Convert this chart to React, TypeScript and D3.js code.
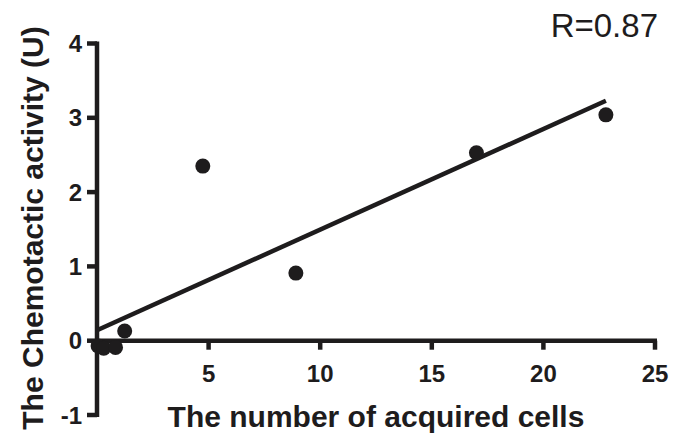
import React from "react";
import * as d3 from "d3";

// ── Data ──────────────────────────────────────────────────────────────────────

const cellCounts = [0.05, 0.3, 0.83, 1.24, 4.74, 8.91, 17.0, 22.8];
const activity = [-0.07, -0.1, -0.09, 0.13, 2.35, 0.91, 2.53, 3.04];

const xTicks = [5, 10, 15, 20, 25];
const yTicks = [-1, 0, 1, 2, 3, 4];

// fitted line as drawn in the figure
const fitIntercept = 0.14;
const fitSlope = 0.1355;
const fitRange = [0, 22.8];

const rLabel = "R=0.87";
const xTitle = "The number of acquired cells";
const yTitle = "The Chemotactic activity (U)";

// ── Layout ────────────────────────────────────────────────────────────────────

const W = 673;
const H = 433;
const INK = "#1e1c1d";
const FONT = "'Liberation Sans', Arial, Helvetica, sans-serif";

export default function App() {
  const x = d3.scaleLinear().domain([0, 25]).range([97, 655]);
  const y = d3.scaleLinear().domain([-1, 4]).range([415, 43.5]);

  const line = d3
    .line<number>()
    .x((d) => x(d))
    .y((d) => y(fitIntercept + fitSlope * d));

  const points = cellCounts.map((c, i) => ({ c, a: activity[i] }));

  return (
    <svg
      width={W}
      height={H}
      style={{ position: "absolute", left: 0, top: 0, background: "#fff" }}
      fontFamily={FONT}
    >
      {/* Y axis */}
      <line
        x1={x(0)}
        x2={x(0)}
        y1={y(4) - 2}
        y2={y(-1) + 2}
        stroke={INK}
        strokeWidth={4.5}
      />
      {yTicks.map((t) => (
        <g key={`y${t}`}>
          <line
            x1={x(0) - 10}
            x2={x(0)}
            y1={y(t)}
            y2={y(t)}
            stroke={INK}
            strokeWidth={4.5}
          />
          <text
            x={82}
            y={y(t)}
            dy="0.36em"
            textAnchor="end"
            fontSize={24}
            fontWeight="bold"
            fill={INK}
          >
            {t}
          </text>
        </g>
      ))}

      {/* X axis at y = 0 */}
      <line
        x1={x(0)}
        x2={x(25) + 2}
        y1={y(0)}
        y2={y(0)}
        stroke={INK}
        strokeWidth={4.5}
      />
      {xTicks.map((t) => (
        <g key={`x${t}`}>
          <line
            x1={x(t)}
            x2={x(t)}
            y1={y(0)}
            y2={y(0) + 9}
            stroke={INK}
            strokeWidth={4.5}
          />
          <text
            x={x(t)}
            y={382}
            textAnchor="middle"
            fontSize={24}
            fontWeight="bold"
            fill={INK}
          >
            {t}
          </text>
        </g>
      ))}

      {/* Regression line */}
      <path
        d={line(fitRange) ?? ""}
        fill="none"
        stroke={INK}
        strokeWidth={4.5}
      />

      {/* Points */}
      {points.map((p, i) => (
        <circle key={i} cx={x(p.c)} cy={y(p.a)} r={7.5} fill={INK} />
      ))}

      {/* Titles */}
      <text
        x={376}
        y={427}
        textAnchor="middle"
        fontSize={30}
        fontWeight="bold"
        fill={INK}
      >
        {xTitle}
      </text>
      <text
        transform={`translate(43,228) rotate(-90)`}
        textAnchor="middle"
        fontSize={30}
        fontWeight="bold"
        fill={INK}
      >
        {yTitle}
      </text>
      <text x={658} y={37} textAnchor="end" fontSize={33} fill={INK}>
        {rLabel}
      </text>
    </svg>
  );
}
